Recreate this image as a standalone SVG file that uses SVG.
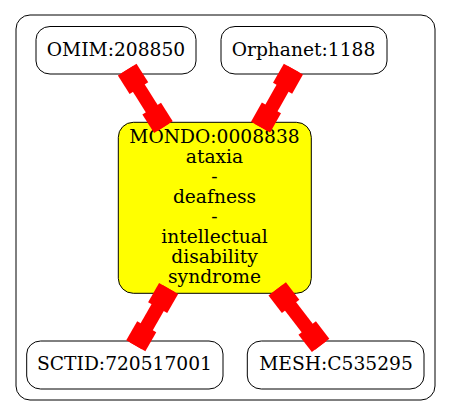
<svg xmlns="http://www.w3.org/2000/svg" width="451" height="416" viewBox="0 0 451 416">
<style>
.node{fill:#ffffff;stroke:#000000;stroke-width:1}
.focus{fill:#ffff00;stroke:#000000;stroke-width:1}
.cluster{fill:#ffffff;stroke:#000000;stroke-width:1}
text{font-family:"DejaVu Serif","Liberation Serif",serif;font-size:18.67px;fill:#000000;text-anchor:middle}
.edge{stroke:#ff0000;stroke-width:14;fill:none;marker-start:url(#box);marker-end:url(#box)}
</style>
<defs>
<marker id="box" markerUnits="userSpaceOnUse" orient="auto-start-reverse" refX="22" refY="0" markerWidth="22" markerHeight="22" overflow="visible">
<rect x="0" y="-11" width="22" height="22" fill="#ff0000"/>
</marker>
</defs>
<rect width="451" height="416" fill="#ffffff"/>
<g id="cluster">
<rect class="cluster" x="16" y="15" width="419" height="385" rx="14" ry="14"/>
</g>
<g id="omim">
<rect class="node" x="36" y="26.5" width="160" height="47.5" rx="14" ry="13"/>
<text x="116" y="55.7">OMIM:208850</text>
</g>
<g id="orphanet">
<rect class="node" x="221" y="26.5" width="166" height="47.5" rx="14" ry="13"/>
<text x="303.5" y="55.7">Orphanet:1188</text>
</g>
<g id="mondo">
<rect class="focus" x="118.3" y="122.3" width="193" height="171" rx="15" ry="15"/>
<text x="214.5" y="142.5">MONDO:0008838</text>
<text x="214.5" y="162.5">ataxia</text>
<text x="214.5" y="182.5">-</text>
<text x="214.5" y="202.5">deafness</text>
<text x="214.5" y="222.5">-</text>
<text x="214.5" y="242.5">intellectual</text>
<text x="214.5" y="262.5">disability</text>
<text x="214.5" y="282.5">syndrome</text>
</g>
<g id="sctid">
<rect class="node" x="26.7" y="341" width="196.3" height="48" rx="14" ry="13"/>
<text x="124.5" y="370">SCTID:720517001</text>
</g>
<g id="mesh">
<rect class="node" x="247.3" y="341" width="176.7" height="48" rx="14" ry="13"/>
<text x="336" y="370">MESH:C535295</text>
</g>
<g id="connectors">
<path class="edge" d="M127.2,69.6 L163.4,127.2"/>
<path class="edge" d="M293.4,69.1 L260.6,127.1"/>
<path class="edge" d="M168.6,288.5 L135.8,345.8"/>
<path class="edge" d="M277.2,288.9 L320.6,345.4"/>
</g>
</svg>
